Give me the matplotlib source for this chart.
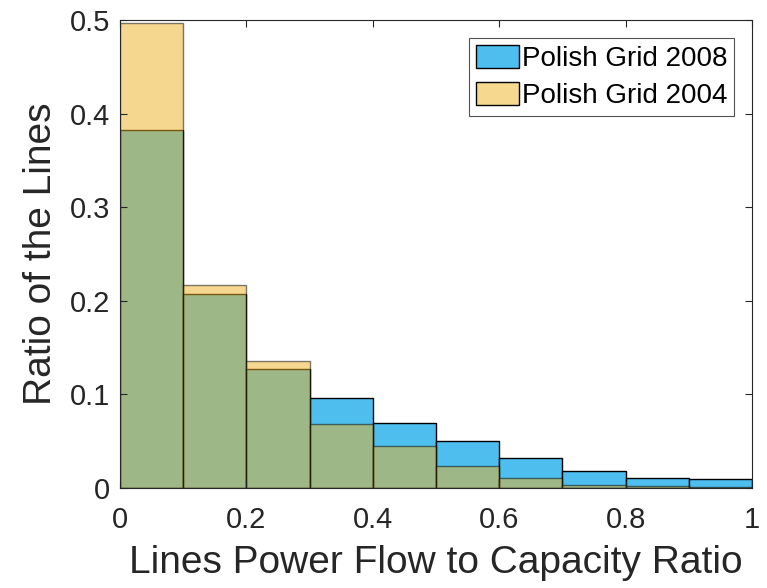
import matplotlib.pyplot as plt
import numpy as np

plt.rcParams["font.family"] = ["Liberation Sans", "DejaVu Sans"]

bin_edges = [0.0, 0.1, 0.2, 0.3, 0.4, 0.5, 0.6, 0.7, 0.8, 0.9, 1.0]
grid_2008 = [0.383, 0.207, 0.127, 0.0958, 0.070, 0.050, 0.032, 0.0178, 0.0103, 0.0093]
grid_2004 = [0.4965, 0.217, 0.1357, 0.068, 0.045, 0.024, 0.0103, 0.003, 0.002, 0.0014]
x_ticks = [0, 0.2, 0.4, 0.6, 0.8, 1]
x_tick_labels = ["0", "0.2", "0.4", "0.6", "0.8", "1"]
y_ticks = [0, 0.1, 0.2, 0.3, 0.4, 0.5]
y_tick_labels = ["0", "0.1", "0.2", "0.3", "0.4", "0.5"]


def main():
    fig = plt.figure(figsize=(7.67, 5.88), dpi=100)
    ax = fig.add_axes([0.1565, 0.170, 0.824, 0.796])

    lefts = np.array(bin_edges[:-1])
    widths = np.diff(bin_edges)
    ax.bar(lefts, grid_2008, width=widths, align="edge", color="#4DBEEE",
           edgecolor="black", linewidth=1, label="Polish Grid 2008")
    ax.bar(lefts, grid_2004, width=widths, align="edge", color="#EDB120",
           alpha=0.5, edgecolor="black", linewidth=1, label="Polish Grid 2004")

    ax.set_xlim(0, 1)
    ax.set_ylim(0, 0.5)
    ax.set_xticks(x_ticks)
    ax.set_xticklabels(x_tick_labels)
    ax.set_yticks(y_ticks)
    ax.set_yticklabels(y_tick_labels)
    ax.tick_params(direction="in", top=True, right=True, labelsize=21,
                   length=5, color="#262626", labelcolor="#262626")
    ax.tick_params(axis="x", pad=13)
    ax.tick_params(axis="y", pad=7)
    for spine in ax.spines.values():
        spine.set_color("#262626")
        spine.set_linewidth(0.8)

    ax.set_xlabel("Lines Power Flow to Capacity Ratio", fontsize=28,
                  labelpad=8, color="#262626")
    ax.set_ylabel("Ratio of the Lines", fontsize=28, labelpad=8,
                  color="#262626")

    leg = ax.legend(loc="upper right", fontsize=20, fancybox=False,
                    borderaxespad=0.65, handlelength=1.55, handleheight=0.9,
                    handletextpad=0.1, borderpad=0.25, labelspacing=0.35)
    leg.get_frame().set_edgecolor("#262626")
    leg.get_frame().set_linewidth(0.8)
    for h in leg.legend_handles:
        h.set_alpha(None)
    leg.legend_handles[1].set_facecolor((0.965, 0.847, 0.561))
    leg.legend_handles[1].set_edgecolor("black")

    fig.savefig("out.png", dpi=100)
    plt.close(fig)


if __name__ == "__main__":
    main()
